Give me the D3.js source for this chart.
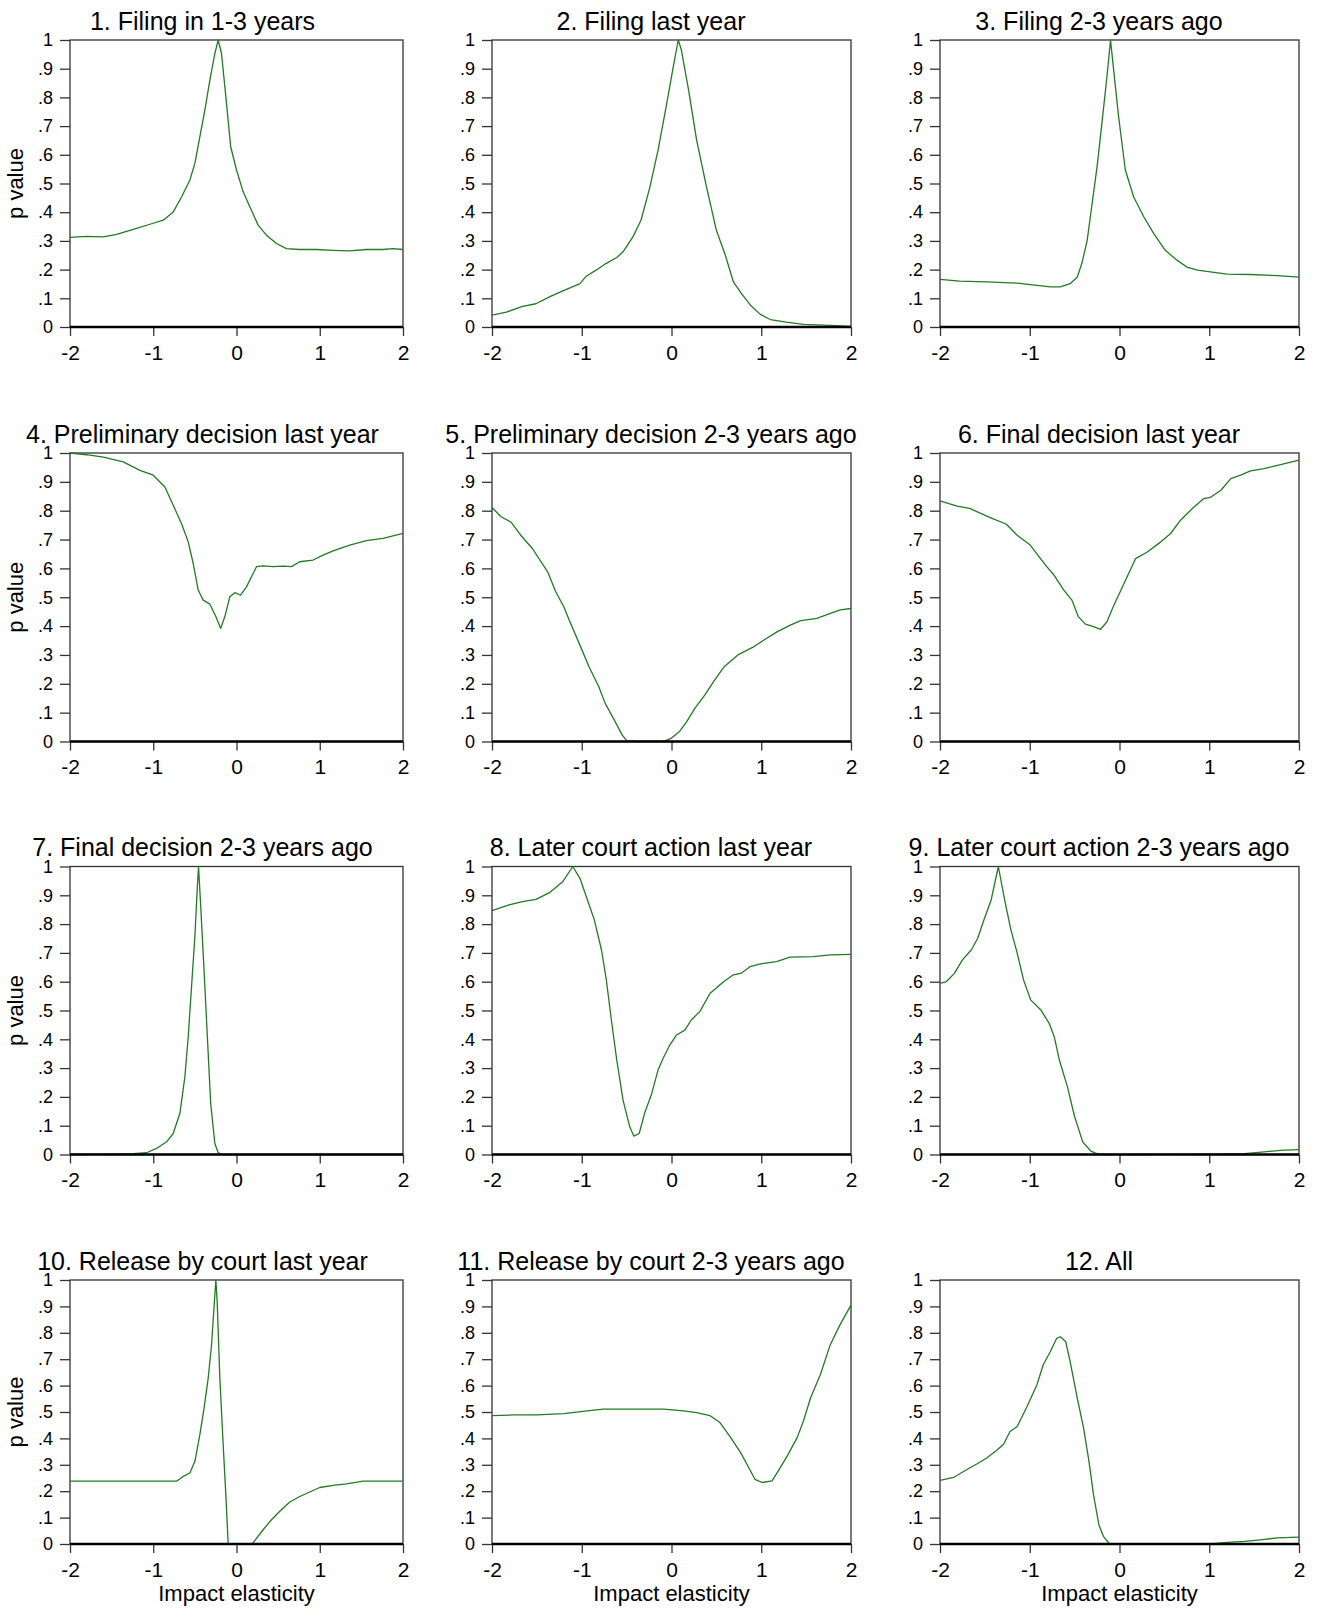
<!DOCTYPE html>
<html>
<head>
<meta charset="utf-8">
<script src="https://cdn.jsdelivr.net/npm/d3@7"></script>
<style>
  html, body { margin: 0; padding: 0; background: #fff; }
  svg { display: block; font-family: "Liberation Sans", Arial, sans-serif; }
</style>
</head>
<body>
<svg id="chart" width="1317" height="1608"></svg>
<script>
// ---------- data ----------
const panelTitles = [
  "1. Filing in 1-3 years", "2. Filing last year", "3. Filing 2-3 years ago",
  "4. Preliminary decision last year", "5. Preliminary decision 2-3 years ago", "6. Final decision last year",
  "7. Final decision 2-3 years ago", "8. Later court action last year", "9. Later court action 2-3 years ago",
  "10. Release by court last year", "11. Release by court 2-3 years ago", "12. All"
];
const xTickValues = [-2, -1, 0, 1, 2];
const xTickLabels = ["-2", "-1", "0", "1", "2"];
const yTickValues = [0, 0.1, 0.2, 0.3, 0.4, 0.5, 0.6, 0.7, 0.8, 0.9, 1];
const yTickLabels = ["0", ".1", ".2", ".3", ".4", ".5", ".6", ".7", ".8", ".9", "1"];
const yAxisTitle = "p value";
const xAxisTitle = "Impact elasticity";

const p1x = [-2,-1.8,-1.6,-1.44,-1.24,-1.04,-0.88,-0.76,-0.66,-0.56,-0.5,-0.44,-0.38,-0.32,-0.26,-0.22,-0.18,-0.12,-0.07,0,0.08,0.16,0.26,0.36,0.48,0.6,0.76,0.96,1.16,1.36,1.56,1.76,1.88,2];
const p1y = [0.312,0.316,0.314,0.323,0.34,0.358,0.372,0.401,0.453,0.512,0.57,0.663,0.756,0.86,0.953,1.0,0.953,0.779,0.628,0.547,0.471,0.419,0.355,0.32,0.291,0.273,0.27,0.27,0.267,0.265,0.27,0.27,0.273,0.27];

const p2x = [-2,-1.84,-1.66,-1.51,-1.36,-1.21,-1.02,-0.95,-0.84,-0.73,-0.61,-0.54,-0.43,-0.34,-0.24,-0.15,-0.06,0.02,0.075,0.11,0.19,0.28,0.39,0.5,0.6,0.69,0.78,0.88,0.99,1.1,1.28,1.47,1.77,2];
const p2y = [0.041,0.052,0.072,0.081,0.105,0.126,0.151,0.177,0.198,0.221,0.242,0.262,0.314,0.372,0.488,0.616,0.767,0.907,1.0,0.965,0.826,0.651,0.488,0.337,0.25,0.157,0.116,0.076,0.044,0.026,0.017,0.009,0.006,0.002];

const p3x = [-2,-1.78,-1.48,-1.14,-0.92,-0.77,-0.66,-0.55,-0.47,-0.42,-0.36,-0.31,-0.25,-0.2,-0.14,-0.1,-0.065,-0.01,0.065,0.158,0.27,0.38,0.51,0.64,0.75,0.87,1.01,1.2,1.46,1.76,2];
const p3y = [0.166,0.16,0.157,0.153,0.145,0.14,0.14,0.151,0.174,0.221,0.302,0.419,0.558,0.698,0.872,1.0,0.895,0.733,0.547,0.453,0.384,0.326,0.267,0.233,0.209,0.198,0.192,0.184,0.183,0.179,0.174];

const p4x = [-2,-1.8,-1.6,-1.36,-1.16,-1.0,-0.86,-0.76,-0.66,-0.58,-0.52,-0.46,-0.4,-0.32,-0.248,-0.19,-0.14,-0.08,-0.02,0.048,0.12,0.18,0.24,0.32,0.44,0.56,0.66,0.76,0.92,1.04,1.16,1.36,1.56,1.76,2];
const p4y = [1.0,0.994,0.986,0.969,0.94,0.923,0.882,0.819,0.755,0.692,0.617,0.525,0.49,0.476,0.433,0.392,0.433,0.502,0.516,0.507,0.536,0.571,0.606,0.609,0.606,0.608,0.606,0.623,0.629,0.646,0.661,0.681,0.696,0.704,0.721];

const p5x = [-2,-1.9,-1.79,-1.68,-1.55,-1.38,-1.29,-1.2,-1.14,-1.03,-0.92,-0.81,-0.74,-0.64,-0.55,-0.5,-0.37,-0.07,0.0,0.09,0.17,0.26,0.37,0.48,0.59,0.74,0.92,1.03,1.18,1.33,1.44,1.62,1.77,1.88,2];
const p5y = [0.811,0.779,0.761,0.715,0.669,0.588,0.519,0.467,0.421,0.341,0.26,0.19,0.133,0.076,0.023,0.003,0,0.002,0.012,0.035,0.069,0.115,0.161,0.213,0.26,0.3,0.329,0.352,0.381,0.404,0.419,0.427,0.444,0.456,0.461];

const p6x = [-2,-1.81,-1.67,-1.44,-1.26,-1.14,-0.995,-0.88,-0.81,-0.73,-0.62,-0.53,-0.46,-0.38,-0.29,-0.21,-0.14,-0.07,0.05,0.18,0.31,0.46,0.57,0.68,0.83,0.94,1.01,1.13,1.24,1.35,1.46,1.61,1.76,2];
const p6y = [0.834,0.816,0.808,0.776,0.753,0.715,0.681,0.634,0.606,0.577,0.525,0.49,0.433,0.407,0.398,0.389,0.415,0.467,0.548,0.634,0.657,0.692,0.721,0.767,0.813,0.842,0.846,0.871,0.911,0.923,0.938,0.946,0.957,0.975];

const p7x = [-2,-1.52,-1.24,-1.08,-0.96,-0.84,-0.76,-0.68,-0.62,-0.58,-0.54,-0.5,-0.47,-0.456,-0.432,-0.39,-0.35,-0.31,-0.26,-0.22,-0.16,0,1,2];
const p7y = [0,0.001,0.003,0.006,0.021,0.044,0.073,0.143,0.27,0.409,0.583,0.757,0.932,1.0,0.873,0.641,0.409,0.177,0.038,0.006,0,0,0,0];

const p8x = [-2,-1.81,-1.66,-1.51,-1.36,-1.21,-1.1,-1.02,-0.95,-0.86,-0.78,-0.726,-0.67,-0.61,-0.54,-0.465,-0.42,-0.36,-0.3,-0.22,-0.15,-0.093,-0.019,0.056,0.149,0.22,0.317,0.43,0.5,0.58,0.69,0.78,0.875,0.99,1.17,1.32,1.58,1.77,2];
const p8y = [0.847,0.867,0.878,0.886,0.909,0.948,1.0,0.959,0.896,0.815,0.71,0.606,0.467,0.328,0.189,0.096,0.064,0.073,0.143,0.212,0.293,0.334,0.38,0.415,0.432,0.467,0.497,0.56,0.578,0.6,0.624,0.63,0.652,0.662,0.67,0.685,0.687,0.693,0.695];

const p9x = [-2,-1.93,-1.84,-1.75,-1.65,-1.58,-1.51,-1.43,-1.35,-1.28,-1.21,-1.14,-1.07,-0.99,-0.876,-0.783,-0.727,-0.67,-0.58,-0.5,-0.41,-0.32,-0.245,-0.17,0,1.017,1.39,1.61,1.83,2];
const p9y = [0.594,0.6,0.629,0.676,0.711,0.751,0.815,0.884,1.0,0.884,0.78,0.699,0.607,0.537,0.502,0.455,0.409,0.328,0.235,0.131,0.044,0.012,0.002,0,0,0.001,0.003,0.009,0.015,0.017];

const p10x = [-2,-1.24,-0.72,-0.64,-0.56,-0.5,-0.44,-0.39,-0.34,-0.3,-0.268,-0.248,-0.232,-0.2,-0.16,-0.128,-0.1,0.18,0.208,0.32,0.42,0.52,0.64,0.76,0.88,1.0,1.16,1.32,1.52,2];
const p10y = [0.238,0.238,0.238,0.256,0.269,0.313,0.414,0.514,0.628,0.754,0.905,1.0,0.918,0.628,0.376,0.187,0,0,0.008,0.054,0.092,0.124,0.159,0.18,0.197,0.214,0.222,0.228,0.238,0.238];

const p11x = [-2,-1.76,-1.5,-1.2,-0.94,-0.76,-0.46,-0.09,0.135,0.28,0.43,0.54,0.66,0.77,0.86,0.93,1.01,1.12,1.19,1.29,1.4,1.47,1.55,1.66,1.77,1.88,2];
const p11y = [0.486,0.489,0.489,0.494,0.504,0.511,0.511,0.511,0.504,0.498,0.486,0.46,0.403,0.346,0.29,0.245,0.233,0.239,0.277,0.334,0.403,0.466,0.554,0.643,0.756,0.832,0.905];

const p12x = [-2,-1.85,-1.7,-1.59,-1.48,-1.37,-1.29,-1.22,-1.14,-1.03,-0.92,-0.85,-0.77,-0.7,-0.66,-0.6,-0.55,-0.47,-0.4,-0.34,-0.29,-0.23,-0.18,-0.11,1.01,1.2,1.39,1.57,1.76,2];
const p12y = [0.241,0.252,0.282,0.303,0.326,0.354,0.379,0.426,0.445,0.521,0.603,0.679,0.729,0.779,0.785,0.767,0.691,0.552,0.439,0.313,0.187,0.073,0.029,0,0,0.006,0.01,0.016,0.023,0.026];

const seriesX = [p1x,p2x,p3x,p4x,p5x,p6x,p7x,p8x,p9x,p10x,p11x,p12x];
const seriesY = [p1y,p2y,p3y,p4y,p5y,p6y,p7y,p8y,p9y,p10y,p11y,p12y];

// ---------- layout ----------
const colLeft = [70, 492, 940];
const colRight = [403, 851, 1299];
const rowTop = [40, 453, 866.5, 1280];
const rowBottom = [327, 741.5, 1154.5, 1544];
const titleShift = [34, 20.5, 20.5];
const lineColor = "#237a23";
const frameColor = "#333";

const svg = d3.select("#chart");
svg.append("rect").attr("width", 1317).attr("height", 1608).attr("fill", "#fff");

panelTitles.forEach((title, i) => {
  const r = Math.floor(i / 3), c = i % 3;
  const L = colLeft[c], R = colRight[c], T = rowTop[r], B = rowBottom[r];
  const x = d3.scaleLinear().domain([-2, 2]).range([L, R]);
  const y = d3.scaleLinear().domain([0, 1]).range([B, T]);
  const g = svg.append("g");

  // frame
  g.append("rect").attr("x", L).attr("y", T).attr("width", R - L).attr("height", B - T)
    .attr("fill", "none").attr("stroke", frameColor).attr("stroke-width", 1.3);

  // x axis
  const xa = g.append("g").attr("transform", `translate(0,${B})`)
    .call(d3.axisBottom(x).tickValues(xTickValues).tickFormat((d, k) => xTickLabels[k]).tickSize(9).tickPadding(9));
  xa.select(".domain").remove();
  xa.selectAll(".tick line").attr("stroke", frameColor).attr("stroke-width", 1.3);
  xa.selectAll(".tick text").attr("font-size", 21).attr("fill", "#000")
    .attr("font-family", '"Liberation Sans", Arial, sans-serif');

  // y axis
  const ya = g.append("g").attr("transform", `translate(${L},0)`)
    .call(d3.axisLeft(y).tickValues(yTickValues).tickFormat((d, k) => yTickLabels[k]).tickSize(10).tickPadding(7));
  ya.select(".domain").remove();
  ya.selectAll(".tick line").attr("stroke", frameColor).attr("stroke-width", 1.3);
  ya.selectAll(".tick text").attr("font-size", 18).attr("fill", "#000")
    .attr("font-family", '"Liberation Sans", Arial, sans-serif');

  // curve
  const pts = seriesX[i].map((xv, k) => [xv, seriesY[i][k]]);
  g.append("path").datum(pts)
    .attr("d", d3.line().x(d => x(d[0])).y(d => y(d[1])))
    .attr("fill", "none").attr("stroke", lineColor).attr("stroke-width", 1.3)
    .attr("stroke-linejoin", "round");

  // zero line
  g.append("line").attr("x1", L).attr("x2", R).attr("y1", y(0)).attr("y2", y(0))
    .attr("stroke", "#000").attr("stroke-width", 2.6);

  // title
  g.append("text").attr("x", (L + R) / 2 - titleShift[c]).attr("y", T - 10.5)
    .attr("text-anchor", "middle").attr("font-size", 25).attr("fill", "#000").text(title);

  if (c === 0) {
    g.append("text").attr("transform", `translate(23,${(T + B) / 2}) rotate(-90)`)
      .attr("text-anchor", "middle").attr("font-size", 22).attr("fill", "#000").text(yAxisTitle);
  }
  if (r === 3) {
    g.append("text").attr("x", (L + R) / 2).attr("y", 1601)
      .attr("text-anchor", "middle").attr("font-size", 22).attr("fill", "#000").text(xAxisTitle);
  }
});
</script>
</body>
</html>
